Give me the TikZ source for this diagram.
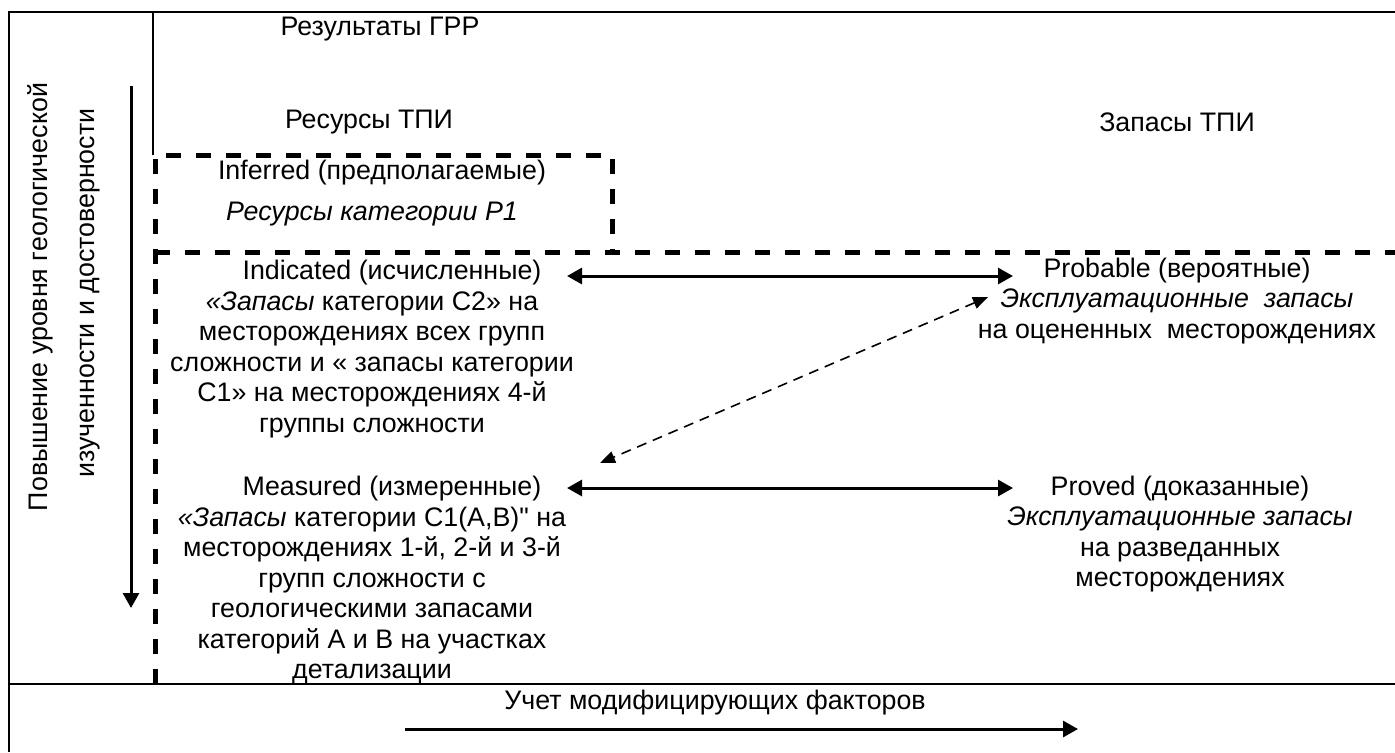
\documentclass[tikz,border=0pt]{standalone}
\usepackage{fontspec}
\setmainfont{Liberation Sans}
\newfontfamily\rawfont{Liberation Sans}
\usetikzlibrary{arrows.meta}
\tikzset{
  frameline/.style={line width=1pt},
  thinline/.style={line width=0.75pt},
  bigdash/.style={line width=2.5pt, dash pattern=on 7.5pt off 7.5pt},
  dblarrow/.style={line width=1.5pt, {Triangle[length=7.5pt,width=8pt]}-{Triangle[length=7.5pt,width=8pt]}},
  onearrow/.style={line width=1.5pt, -{Triangle[length=7.5pt,width=8pt]}},
  diagarrow/.style={line width=0.8pt, dash pattern=on 5pt off 3.5pt, {Triangle[length=7.5pt,width=6pt]}-{Triangle[length=7.5pt,width=6pt]}},
  txt/.style={align=center, inner sep=0pt},
}
\begin{document}
\begin{tikzpicture}[x=0.5pt,y=-0.5pt, font=\fontsize{13.4}{15.25}\selectfont]
\useasboundingbox (0,0) rectangle (1395,752);
% frame
\draw[frameline] (1395,12) -- (9,12) -- (9,752);
\draw[frameline] (9,684) -- (1395,684);
\draw[thinline] (153,12) -- (153,155);
% dashed boundaries
\draw[bigdash] (155,684) -- (155,155) -- (612,155) -- (612,252);
\draw[bigdash] (155,252) -- (1395,252);
% headings
\node[txt] (grr) at (380,29) {Результаты ГРР};
\node[txt] (res) at (369,122) {Ресурсы ТПИ};
\node[txt] (zap) at (1177,122) {Запасы ТПИ};
% side labels
\node[txt, rotate=90] (side1) at (40,297) {Повышение уровня геологической};
\node[txt, rotate=90] (side2) at (90,293) {изученности и достоверности};
\coordinate (vtop) at (131,86);
\coordinate (vbot) at (131,608);
\draw[onearrow] (vtop) -- (vbot);
% inferred
\node[txt] (inf) at (382,173) {Inferred (предполагаемые)};
\node[txt] (p1) at (372,214) {\textit{Ресурсы категории Р1}};
% indicated
\node[txt] (ind) at (372,349) {\hspace*{20pt}Indicated (исчисленные)\\
\textit{«Запасы} категории С2» на\\
месторождениях всех групп\\
сложности и « запасы категории\\
С1» на месторождениях 4-й\\
группы сложности};
% measured
\node[txt] (mea) at (372,580) {\hspace*{20pt}Measured (измеренные)\\
\textit{«Запасы} категории С1(А,В){\rawfont"} на\\
месторождениях 1-й, 2-й и 3-й\\
групп сложности с\\
геологическими запасами\\
категорий А и В на участках\\
детализации};
% probable
\node[txt] (prob) at (1177,301) {Probable (вероятные)\\
\textit{Эксплуатационные\ \ запасы}\\
на оцененных\ \ месторождениях};
% proved
\node[txt] (prov) at (1180,534) {Proved (доказанные)\\
\textit{Эксплуатационные запасы}\\
на разведанных\\
месторождениях};
% arrows
\coordinate (indR) at (567,276);
\coordinate (probL) at (1013,276);
\coordinate (meaR) at (567,488);
\coordinate (provL) at (1013,488);
\coordinate (diagA) at (988,297);
\coordinate (diagB) at (600,463);
\draw[dblarrow] (indR) -- (probL);
\draw[dblarrow] (meaR) -- (provL);
\draw[diagarrow] (diagA) -- (diagB);
% bottom
\node[txt] (mod) at (715,703) {Учет модифицирующих факторов};
\coordinate (modL) at (405,729);
\coordinate (modR) at (1078,729);
\draw[onearrow] (modL) -- (modR);
\end{tikzpicture}
\end{document}
